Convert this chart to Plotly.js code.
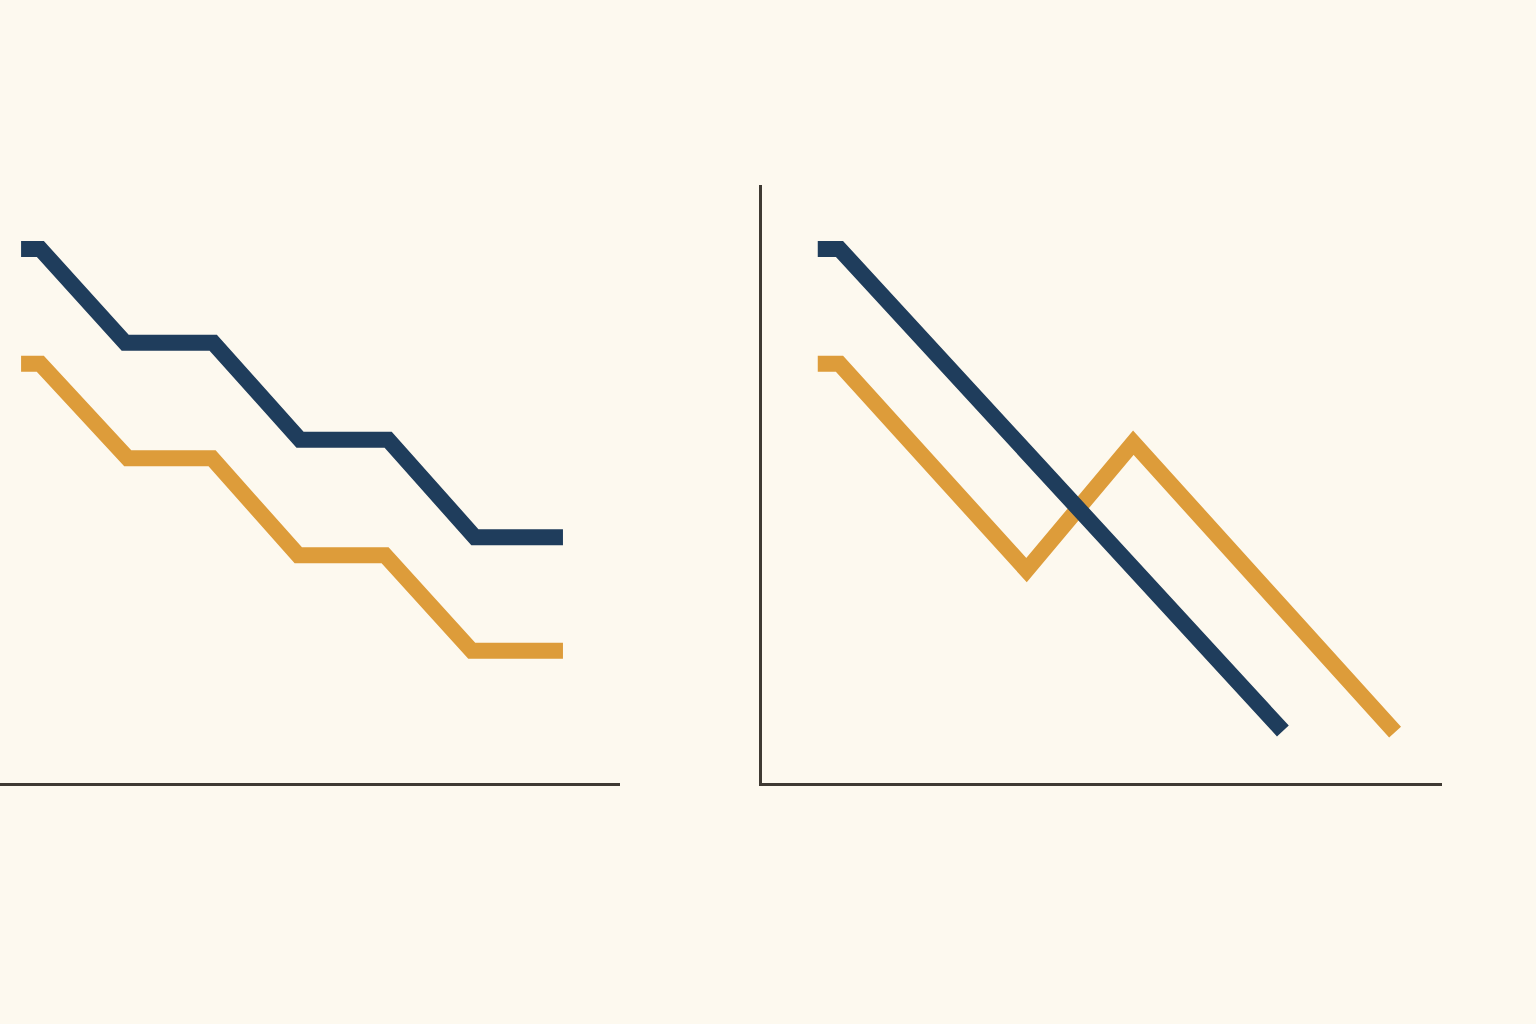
<!DOCTYPE html>
<html>
<head>
<meta charset="utf-8">
<script src="https://cdn.plot.ly/plotly-3.0.1.min.js"></script>
<style>html,body{margin:0;padding:0;background:#fdf9ef;}#chart{width:1536px;height:1024px;}</style>
</head>
<body>
<div id="chart"></div>
<script>
// Left panel (stepped decline)
const leftX = [0.34, 0.65, 2.02, 3.44, 4.84, 6.26, 7.66, 9.08];
const leftNavy = [8.93, 8.93, 7.36, 7.36, 5.74, 5.74, 4.11, 4.11];
const leftOrangeX = [0.34, 0.65, 2.06, 3.42, 4.81, 6.21, 7.61, 9.08];
const leftOrange = [7.01, 7.01, 5.43, 5.43, 3.81, 3.81, 2.21, 2.21];
// Right panel
const rightNavyX = [0.82, 1.14, 7.66];
const rightNavy = [8.93, 8.93, 0.87];
const rightOrangeX = [0.82, 1.14, 3.89, 5.46, 9.31];
const rightOrange = [7.01, 7.01, 3.56, 5.69, 0.85];

const navy = '#1f3d5c';
const orange = '#dd9c3a';
const axisColor = '#3f3a33';
const lw = 16;

const traces = [
  {x: leftX, y: leftNavy, xaxis: 'x', yaxis: 'y', mode: 'lines', line: {color: navy, width: lw}, hoverinfo: 'skip'},
  {x: leftOrangeX, y: leftOrange, xaxis: 'x', yaxis: 'y', mode: 'lines', line: {color: orange, width: lw}, hoverinfo: 'skip'},
  {x: rightOrangeX, y: rightOrange, xaxis: 'x2', yaxis: 'y2', mode: 'lines', line: {color: orange, width: lw}, hoverinfo: 'skip'},
  {x: rightNavyX, y: rightNavy, xaxis: 'x2', yaxis: 'y2', mode: 'lines', line: {color: navy, width: lw}, hoverinfo: 'skip'}
];

const yBottom = (1024 - 783) / 1024;
const yTop = (1024 - 185) / 1024;
const common = {showgrid: false, zeroline: false, showticklabels: false, ticks: '', fixedrange: true};

const layout = {
  width: 1536, height: 1024,
  margin: {l: 0, r: 0, t: 0, b: 0},
  paper_bgcolor: '#fdf9ef', plot_bgcolor: '#fdf9ef',
  showlegend: false,
  xaxis: Object.assign({}, common, {domain: [0, 620/1536], range: [0, 10], showline: true, linecolor: axisColor, linewidth: 3, anchor: 'y'}),
  yaxis: Object.assign({}, common, {domain: [yBottom, yTop], range: [0, 10], showline: false, anchor: 'x'}),
  xaxis2: Object.assign({}, common, {domain: [762/1536, 1442/1536], range: [0, 10], showline: true, linecolor: axisColor, linewidth: 3, anchor: 'y2'}),
  yaxis2: Object.assign({}, common, {domain: [yBottom, yTop], range: [0, 10], showline: true, linecolor: axisColor, linewidth: 3, anchor: 'x2'})
};

Plotly.newPlot('chart', traces, layout, {displayModeBar: false, staticPlot: true});
</script>
</body>
</html>
